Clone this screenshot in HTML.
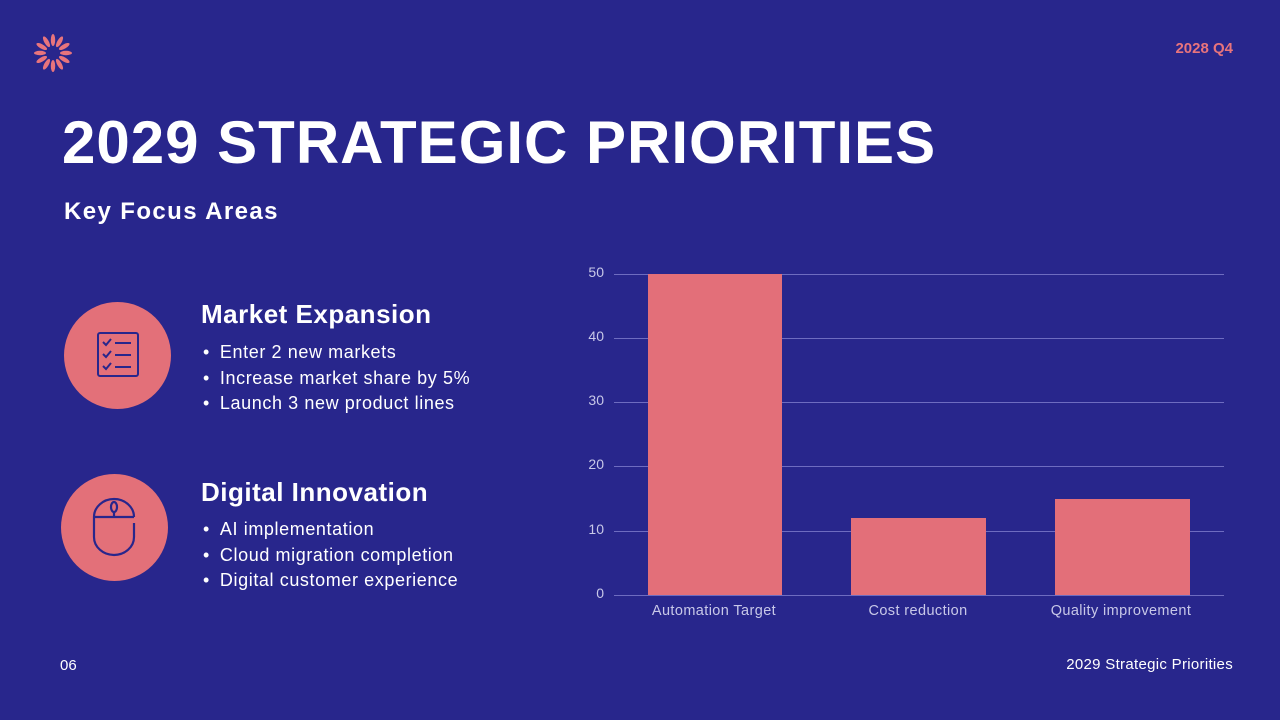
<!DOCTYPE html>
<html><head><style>
body{margin:0;width:1280px;height:720px;background:#28268c;font-family:"Liberation Sans",sans-serif;position:relative;overflow:hidden;color:#fff}
.a{position:absolute;white-space:nowrap}
.circ{position:absolute;width:107px;height:107px;border-radius:50%;background:#e37079}
ul{margin:0;padding:0;list-style:none}
li{font-size:18px;line-height:25.5px;letter-spacing:0.6px}
li:before{content:"•";margin-right:10px}
</style></head><body>
<svg class="a" style="left:32px;top:32px" width="42" height="42" viewBox="-21 -21 42 42">
<g fill="#e8747c">
<ellipse cx="0" cy="-13" rx="2.2" ry="6" transform="rotate(0)"/><ellipse cx="0" cy="-13" rx="2.2" ry="6" transform="rotate(30)"/><ellipse cx="0" cy="-13" rx="2.2" ry="6" transform="rotate(60)"/><ellipse cx="0" cy="-13" rx="2.2" ry="6" transform="rotate(90)"/><ellipse cx="0" cy="-13" rx="2.2" ry="6" transform="rotate(120)"/><ellipse cx="0" cy="-13" rx="2.2" ry="6" transform="rotate(150)"/><ellipse cx="0" cy="-13" rx="2.2" ry="6" transform="rotate(180)"/><ellipse cx="0" cy="-13" rx="2.2" ry="6" transform="rotate(210)"/><ellipse cx="0" cy="-13" rx="2.2" ry="6" transform="rotate(240)"/><ellipse cx="0" cy="-13" rx="2.2" ry="6" transform="rotate(270)"/><ellipse cx="0" cy="-13" rx="2.2" ry="6" transform="rotate(300)"/><ellipse cx="0" cy="-13" rx="2.2" ry="6" transform="rotate(330)"/>
</g></svg>
<div class="a" style="right:47px;top:40px;font-size:15px;font-weight:bold;color:#e8747c">2028 Q4</div>
<div class="a" style="left:62px;top:108px;font-size:60px;font-weight:bold;letter-spacing:1px">2029 STRATEGIC PRIORITIES</div>
<div class="a" style="left:64px;top:198px;font-size:24px;font-weight:bold;letter-spacing:1.4px">Key Focus Areas</div>

<div class="circ" style="left:64px;top:302px"></div>
<svg class="a" style="left:95px;top:330px" width="46" height="50" viewBox="0 0 46 50" fill="none" stroke="#28268c" stroke-width="2">
<rect x="3" y="3" width="40" height="43" rx="2"/><path d="M8 12l3 3 5-6M8 24l3 3 5-6M8 36l3 3 5-6M20 13h16M20 25h16M20 37h16"/></svg>
<div class="circ" style="left:61px;top:474px"></div>
<svg class="a" style="left:90px;top:497px" width="48" height="60" viewBox="0 0 48 60" fill="none" stroke="#28268c" stroke-width="2.2">
<path d="M4 20a20 18 0 0 1 40 0M4 20v20a20 18 0 0 0 40 0v-14M4 20h40"/><ellipse cx="24" cy="10" rx="3" ry="5"/><path d="M24 15v5"/></svg>

<div class="a" style="left:201px;top:299px;font-size:26px;font-weight:bold;letter-spacing:0.5px">Market Expansion</div>
<ul class="a" style="left:203px;top:340px"><li>Enter 2 new markets</li><li>Increase market share by 5%</li><li>Launch 3 new product lines</li></ul>
<div class="a" style="left:201px;top:477px;font-size:26px;font-weight:bold;letter-spacing:0.5px">Digital Innovation</div>
<ul class="a" style="left:203px;top:517px"><li>AI implementation</li><li>Cloud migration completion</li><li>Digital customer experience</li></ul>

<svg class="a" style="left:0;top:0" width="1280" height="720">
<g stroke="#6e6cc0" stroke-width="1">
<line x1="614" y1="274.5" x2="1224" y2="274.5"/><line x1="614" y1="338.5" x2="1224" y2="338.5"/><line x1="614" y1="402.5" x2="1224" y2="402.5"/><line x1="614" y1="466.5" x2="1224" y2="466.5"/><line x1="614" y1="531.5" x2="1224" y2="531.5"/><line x1="614" y1="595.5" x2="1224" y2="595.5"/></g>
<g fill="#e36f79"><rect x="648" y="274" width="134" height="321"/><rect x="851" y="518" width="135" height="77"/><rect x="1055" y="499" width="135" height="96"/></g>
<g fill="#c8c8e8" font-size="14" font-family="Liberation Sans" text-anchor="end">
<text x="604" y="277">50</text><text x="604" y="341">40</text><text x="604" y="405">30</text><text x="604" y="469">20</text><text x="604" y="534">10</text><text x="604" y="598">0</text></g>
<g fill="#c8c8e8" font-size="14.5" font-family="Liberation Sans" text-anchor="middle" letter-spacing="0.4">
<text x="714" y="615">Automation Target</text><text x="918" y="615">Cost reduction</text><text x="1121" y="615">Quality improvement</text></g>
</svg>
<div class="a" style="left:60px;top:657px;font-size:15px">06</div>
<div class="a" style="right:47px;top:656px;font-size:15px;letter-spacing:0.3px">2029 Strategic Priorities</div>
</body></html>
